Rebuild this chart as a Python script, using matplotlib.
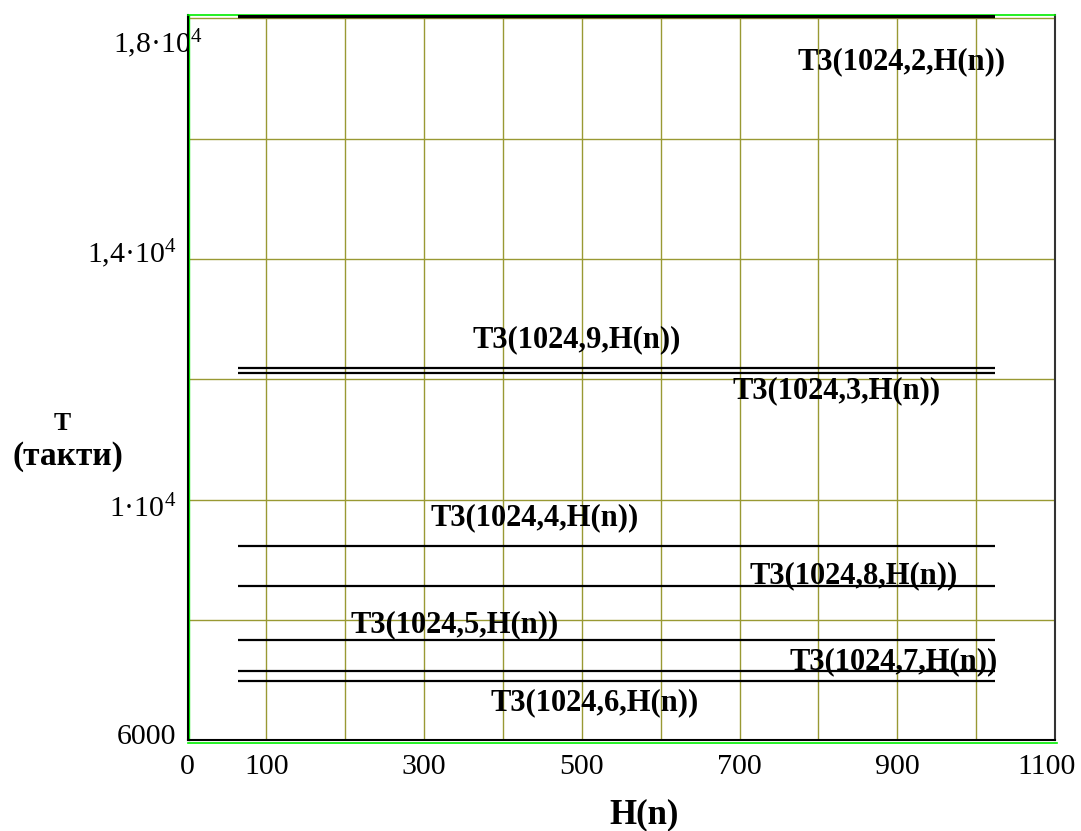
import matplotlib
matplotlib.use("Agg")
import matplotlib.pyplot as plt
import matplotlib.transforms as mtransforms
import numpy as np

plt.rcParams['font.family'] = ['Liberation Serif', 'DejaVu Serif']
plt.rcParams['mathtext.fontset'] = 'custom'
plt.rcParams['mathtext.rm'] = 'Liberation Serif'

# data: T3(1024, k, H(n)) is constant over H(n)
h_n = [64, 1024]
k_values = [2, 9, 3, 4, 8, 5, 7, 6]
t_values = [18040, 12181, 12108, 9229, 8565, 7668, 7153, 6987]
line_widths = [3.2, 1.6, 1.6, 1.6, 1.6, 1.6, 1.6, 1.6]

# label anchor points (data coords) for the trace names
label_x = [905, 494, 823, 440, 845, 339, 895, 516]
label_y = [17274, 12654, 11806, 9696, 8732, 7918, 7303, 6622]

xtick_pos = [0, 100, 300, 500, 700, 900, 1100]
xgrid_pos = list(range(0, 1101, 100))
ytick_pos = [6000, 10000, 14000, 18000]
ytick_lbl = ['6000', r'1·$\mathregular{10^4}$', r'1,4·$\mathregular{10^4}$',
             r'1,8·$\mathregular{10^4}$']
ygrid_pos = list(range(6000, 18001, 2000))

fig = plt.figure(figsize=(10.81, 8.31), dpi=100, facecolor='white')
ax = fig.add_axes([187.5 / 1081, 1 - 740.4 / 831, (1055 - 187.5) / 1081, (740.4 - 15) / 831])

GRID = '#999933'
for gx in xgrid_pos[1:-1]:
    ax.axvline(gx, color=GRID, lw=1.0, zorder=1)
for gy in ygrid_pos[1:]:
    ax.axhline(gy, color=GRID, lw=1.0, zorder=1)

for k, t, lw in zip(k_values, t_values, line_widths):
    ax.plot(h_n, [t, t], color='black', lw=lw, solid_capstyle='butt', zorder=3)

for k, lx, ly in zip(k_values, label_x, label_y):
    ax.text(lx, ly, f'T3(1024,{k},H(n))', ha='center', va='center',
            fontsize=22, fontweight='bold', zorder=4)

ax.set_xlim(0, 1100)
ax.set_ylim(6000, 18055)
ax.set_xticks(xtick_pos)
ax.set_xticklabels([str(v) for v in xtick_pos])
ax.set_yticks(ytick_pos)
ax.set_yticklabels(ytick_lbl)
ax.tick_params(axis='both', length=0, labelsize=21.5)
ax.tick_params(axis='x', pad=10)
ax.tick_params(axis='y', pad=8)

# Mathcad-style odd placement of the y tick labels (pixels: dx, dy)
offsets = [(0, 6), (0, -6), (0, 9), (26, -22)]
for lbl, (dx, dy) in zip(ax.get_yticklabels(), offsets):
    lbl.set_transform(lbl.get_transform() +
                      mtransforms.ScaledTranslation(dx / 100, dy / 100, fig.dpi_scale_trans))
# last x label sits a little left of its gridline
xl = ax.get_xticklabels()[-1]
xl.set_transform(xl.get_transform() +
                 mtransforms.ScaledTranslation(-8 / 100, 0, fig.dpi_scale_trans))

for side in ['left', 'bottom']:
    ax.spines[side].set_color('black')
    ax.spines[side].set_linewidth(1.5)
ax.spines['right'].set_color('#333333')
ax.spines['right'].set_linewidth(1.5)
ax.spines['top'].set_color('#00ee00')
ax.spines['top'].set_linewidth(1.2)

# green inner edges like Mathcad frames
left_green = mtransforms.offset_copy(ax.transAxes, fig=fig, x=1.5, y=0, units='dots')
ax.plot([0, 0], [0, 1], transform=left_green, color='#00ee00', lw=1.0, clip_on=False, zorder=2)
bottom_green = mtransforms.offset_copy(ax.transAxes, fig=fig, x=0, y=-2.5, units='dots')
ax.plot([0, 1.002], [0, 0], transform=bottom_green, color='#00ee00', lw=1.2, clip_on=False, zorder=2)

fig.text(644 / 1081, 1 - 815 / 831, 'H(n)', ha='center', va='center',
         fontsize=25, fontweight='bold')
fig.text(62 / 1081, 1 - 423 / 831, 'T', ha='center', va='center',
         fontsize=18.5, fontweight='bold')
fig.text(68 / 1081, 1 - 457 / 831, '(такти)', ha='center', va='center',
         fontsize=24, fontweight='bold')

fig.savefig('out.png', dpi=100, facecolor='white')
